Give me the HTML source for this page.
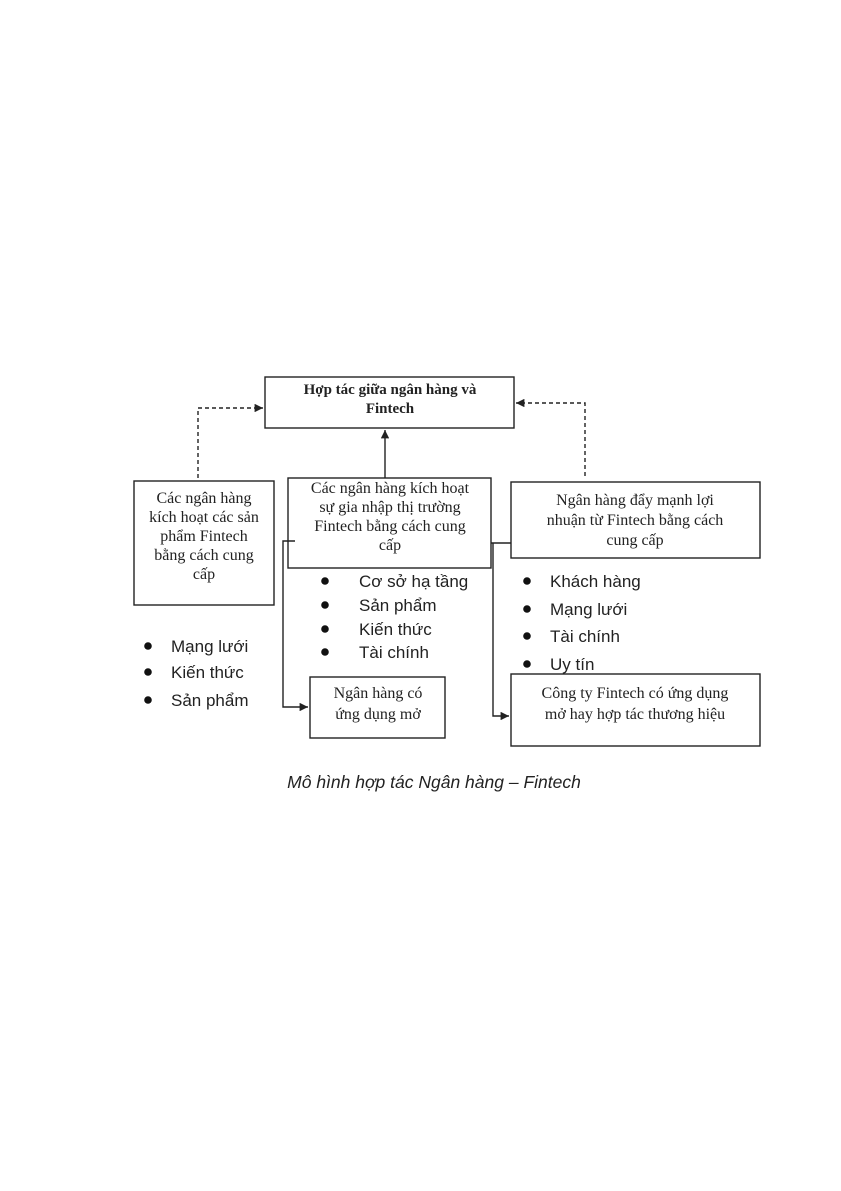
<!DOCTYPE html>
<html><head><meta charset="utf-8"><style>
body{margin:0;background:#fff;}
svg{display:block}
.s{font-family:"Liberation Serif","DejaVu Serif",serif;font-size:16px;fill:#222}
.a{font-family:"Liberation Sans","DejaVu Sans",sans-serif;font-size:17px;fill:#222}
</style></head><body>
<svg width="841" height="1191" viewBox="0 0 841 1191" xmlns="http://www.w3.org/2000/svg">
<defs><marker id="ar" markerWidth="6" markerHeight="6" refX="6" refY="3" orient="auto"><path d="M0,0 L6,3 L0,6z" fill="#222"/></marker></defs>
<g fill="none" stroke="#222" stroke-width="1.4">
<rect x="265" y="377" width="249" height="51"/>
<rect x="134" y="481" width="140" height="124"/>
<rect x="288" y="478" width="203" height="90"/>
<rect x="511" y="482" width="249" height="76"/>
<rect x="310" y="677" width="135" height="61"/>
<rect x="511" y="674" width="249" height="72"/>
<path d="M198 478 V408 H263" stroke-dasharray="4,3" marker-end="url(#ar)"/>
<path d="M585 476 V403 H516" stroke-dasharray="4,3" marker-end="url(#ar)"/>
<path d="M385 478 V430" marker-end="url(#ar)"/>
<path d="M295 541 H283 V707 H308" marker-end="url(#ar)"/>
<path d="M491 543 H511 M493 543 V716 H509" marker-end="url(#ar)"/>
</g>
<g class="s" text-anchor="middle">
<text x="390" y="394" font-weight="bold" font-size="15">Hợp tác giữa ngân hàng và</text>
<text x="390" y="413" font-weight="bold" font-size="15">Fintech</text>
<text x="204" y="503">Các ngân hàng</text>
<text x="204" y="522">kích hoạt các sản</text>
<text x="204" y="541">phẩm Fintech</text>
<text x="204" y="560">bằng cách cung</text>
<text x="204" y="579">cấp</text>
<text x="390" y="493">Các ngân hàng kích hoạt</text>
<text x="390" y="512">sự gia nhập thị trường</text>
<text x="390" y="531">Fintech bằng cách cung</text>
<text x="390" y="550">cấp</text>
<text x="635" y="505">Ngân hàng đẩy mạnh lợi</text>
<text x="635" y="525">nhuận từ Fintech bằng cách</text>
<text x="635" y="545">cung cấp</text>
<text x="378" y="698">Ngân hàng có</text>
<text x="378" y="719">ứng dụng mở</text>
<text x="635" y="698">Công ty Fintech có ứng dụng</text>
<text x="635" y="719">mở hay hợp tác thương hiệu</text>
</g>
<g fill="#111">
<circle cx="325" cy="581" r="3.8"/><circle cx="325" cy="605" r="3.8"/><circle cx="325" cy="629" r="3.8"/><circle cx="325" cy="652" r="3.8"/>
<circle cx="527" cy="581" r="3.8"/><circle cx="527" cy="609" r="3.8"/><circle cx="527" cy="636" r="3.8"/><circle cx="527" cy="664" r="3.8"/>
<circle cx="148" cy="646" r="3.8"/><circle cx="148" cy="672" r="3.8"/><circle cx="148" cy="700" r="3.8"/>
</g>
<g class="a">
<text x="359" y="587">Cơ sở hạ tầng</text>
<text x="359" y="611">Sản phẩm</text>
<text x="359" y="635">Kiến thức</text>
<text x="359" y="658">Tài chính</text>
<text x="550" y="587">Khách hàng</text>
<text x="550" y="615">Mạng lưới</text>
<text x="550" y="642">Tài chính</text>
<text x="550" y="670">Uy tín</text>
<text x="171" y="652">Mạng lưới</text>
<text x="171" y="678">Kiến thức</text>
<text x="171" y="706">Sản phẩm</text>
</g>
<text x="434" y="788" text-anchor="middle" font-family="Liberation Sans, DejaVu Sans, sans-serif" font-size="17.5" font-style="italic" fill="#222">Mô hình hợp tác Ngân hàng – Fintech</text>
</svg>
</body></html>
